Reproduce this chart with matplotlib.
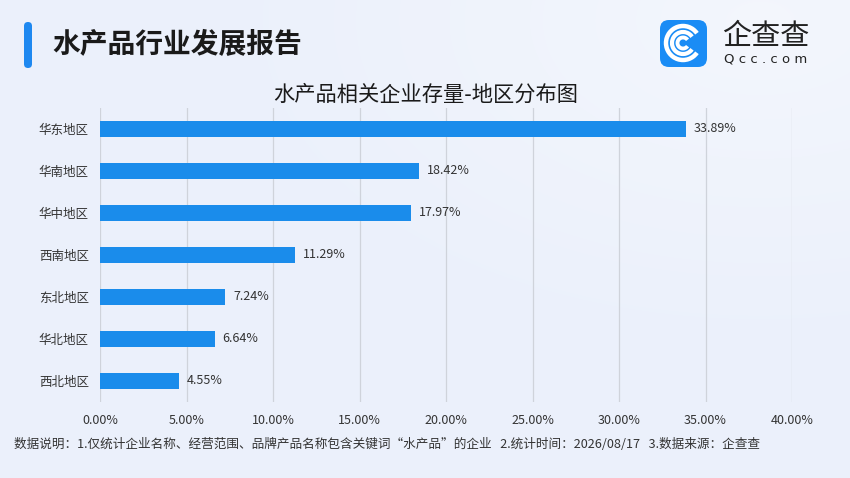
import numpy as np
import matplotlib
matplotlib.use("Agg")
import matplotlib.pyplot as plt
from matplotlib.patches import FancyBboxPatch, Arc

plt.rcParams['font.family'] = ['Noto Sans CJK SC', 'DejaVu Sans']

regions = ["华东地区", "华南地区", "华中地区", "西南地区", "东北地区", "华北地区", "西北地区"]
shares = [33.89, 18.42, 17.97, 11.29, 7.24, 6.64, 4.55]
xticks = [0, 5, 10, 15, 20, 25, 30, 35, 40]

title = "水产品行业发展报告"
chart_title = "水产品相关企业存量-地区分布图"
footnote = "数据说明：1.仅统计企业名称、经营范围、品牌产品名称包含关键词“水产品”的企业   2.统计时间：2026/08/17   3.数据来源：企查查"

W, H = 850, 478
fig = plt.figure(figsize=(W / 100, H / 100), dpi=100)

# background gradient
bg = fig.add_axes([0, 0, 1, 1])
yy, xx = np.mgrid[0:H, 0:W]
base = np.array([0.925, 0.945, 0.985])
d = np.sqrt(((xx - 760) / 500.0) ** 2 + ((yy - 20) / 300.0) ** 2)
light = np.clip(1 - d, 0, 1)[..., None]
img = base * (1 - 0.6 * light) + np.array([0.975, 0.98, 0.995]) * 0.6 * light
bg.imshow(img, extent=[0, W, H, 0], aspect='auto')
bg.set_xlim(0, W)
bg.set_ylim(H, 0)
bg.axis('off')

# title bar
bg.add_patch(FancyBboxPatch((24, 22), 8, 46, boxstyle="round,pad=0,rounding_size=4",
                            facecolor="#1e88f0", edgecolor="none"))
bg.text(52, 45, title, fontsize=20, fontweight='bold', color="#1a1a1a", va='center', ha='left')

# logo
bg.add_patch(FancyBboxPatch((660, 20), 47, 47, boxstyle="round,pad=0,rounding_size=9",
                            facecolor="#1a8cf5", edgecolor="none"))
cx, cy = 683, 43
for r, lw in [(34, 3.2), (22, 3.0), (11, 2.8)]:
    bg.add_patch(Arc((cx, cy), r, r, theta1=35, theta2=325, color="white", lw=lw))
bg.text(766, 37, "企查查", fontsize=21, color="#222222", ha='center', va='center')
bg.text(766, 59, "Q c c . c o m", fontsize=9.5, color="#222222", ha='center', va='center',
        family='DejaVu Sans')

bg.text(426, 95, chart_title, fontsize=15.3, color="#1a1a1a", ha='center', va='center')
bg.text(14, 444, footnote, fontsize=9.1, color="#333333", ha='left', va='center')

# chart
ax = fig.add_axes([100 / W, 1 - 402 / H, 692 / W, 294 / H])
ax.set_facecolor('none')
y = np.arange(len(regions))
ax.barh(y, shares, height=0.4, color="#1a8ceb", zorder=3)
for yi, v in zip(y, shares):
    ax.text(v + 0.45, yi, f"{v:.2f}%", va='center', ha='left', fontsize=9, color="#333333")
ax.set_yticks(y)
ax.set_yticklabels(regions, fontsize=9, color="#333333")
ax.set_ylim(len(regions) - 0.5, -0.5)
ax.set_xlim(0, 40)
ax.set_xticks(xticks)
ax.set_xticklabels([f"{t:.2f}%" for t in xticks], fontsize=9, color="#333333")
ax.tick_params(length=0)
ax.tick_params(axis='x', pad=9)
ax.tick_params(axis='y', pad=8)
ax.grid(axis='x', color="#cfd3db", lw=0.9, zorder=0)
for s in ax.spines.values():
    s.set_visible(False)

fig.savefig("out.png", dpi=100)
